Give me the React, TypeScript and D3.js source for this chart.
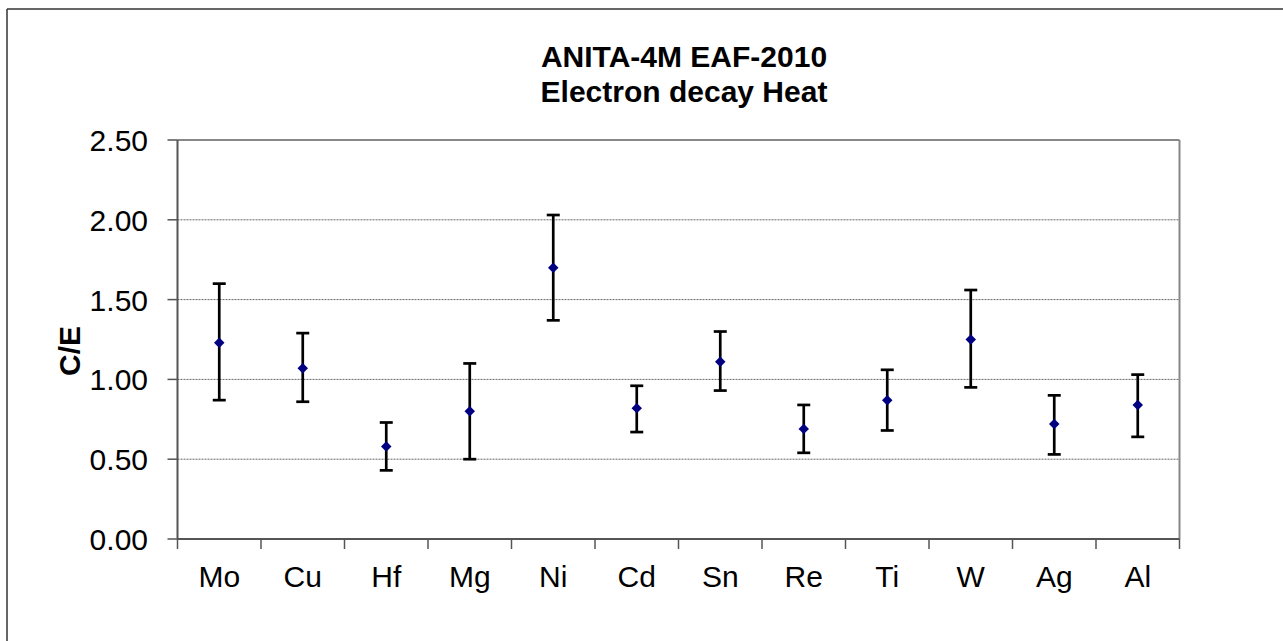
import React from "react";
import * as d3 from "d3";

// C/E ratios
const elements = ["Mo", "Cu", "Hf", "Mg", "Ni", "Cd", "Sn", "Re", "Ti", "W", "Ag", "Al"];
const ceValues = [1.23, 1.07, 0.58, 0.8, 1.7, 0.82, 1.11, 0.69, 0.87, 1.25, 0.72, 0.84];
const upperBars = [1.6, 1.29, 0.73, 1.1, 2.03, 0.96, 1.3, 0.84, 1.06, 1.56, 0.9, 1.03];
const lowerBars = [0.87, 0.86, 0.43, 0.5, 1.37, 0.67, 0.93, 0.54, 0.68, 0.95, 0.53, 0.64];
const yTicks = [0, 0.5, 1.0, 1.5, 2.0, 2.5];
const titleLines = ["ANITA-4M EAF-2010", "Electron decay Heat"];

const W = 1283;
const H = 641;
const plot = { left: 177.5, right: 1179.5, top: 140, bottom: 539 };

const App = () => {
  const x = d3.scaleBand().domain(elements).range([plot.left, plot.right]);
  const y = d3.scaleLinear().domain([0, 2.5]).range([plot.bottom, plot.top]);
  const font = "Arial, 'Liberation Sans', sans-serif";
  const diamond = d3.symbol().type(d3.symbolDiamond2).size(70)();
  const capHalf = 6.5;

  // band edges for x ticks
  const edges = elements.map((e) => x(e)!).concat([plot.right]);

  return (
    <svg
      width={W}
      height={H}
      style={{ position: "absolute", left: 0, top: 0, background: "#fff" }}
      fontFamily={font}
    >
      {/* chart area frame (only left/top edges fall inside the picture) */}
      <line x1={7} y1={9} x2={7} y2={H} stroke="#333" strokeWidth={1.5} />
      <line x1={7} y1={9} x2={W} y2={9} stroke="#333" strokeWidth={1.5} />

      {titleLines.map((t, i) => (
        <text
          key={t}
          x={684}
          y={67 + i * 35}
          textAnchor="middle"
          fontSize={30}
          fontWeight="bold"
        >
          {t}
        </text>
      ))}

      {/* gridlines */}
      {yTicks
        .filter((t) => t > 0 && t < 2.5)
        .map((t) => (
          <line
            key={t}
            x1={plot.left}
            x2={plot.right}
            y1={y(t)}
            y2={y(t)}
            stroke="#666"
            strokeWidth={1}
            strokeDasharray="2,1"
          />
        ))}

      {/* plot border top/right */}
      <line x1={plot.left} x2={plot.right} y1={y(2.5)} y2={y(2.5)} stroke="#888" strokeWidth={2} />
      <line x1={plot.right} x2={plot.right} y1={plot.top} y2={plot.bottom} stroke="#888" strokeWidth={2} />

      {/* y axis */}
      <line x1={plot.left} x2={plot.left} y1={plot.top} y2={plot.bottom} stroke="#555" strokeWidth={2} />
      {yTicks.map((t) => (
        <g key={t}>
          <line x1={plot.left - 10} x2={plot.left} y1={y(t)} y2={y(t)} stroke="#555" strokeWidth={1.5} />
          <text x={148} y={y(t) + 11} textAnchor="end" fontSize={30}>
            {d3.format(".2f")(t)}
          </text>
        </g>
      ))}
      <text
        transform={`translate(80, 351) rotate(-90)`}
        textAnchor="middle"
        fontSize={30}
        fontWeight="bold"
      >
        C/E
      </text>

      {/* x axis */}
      <line x1={plot.left} x2={plot.right} y1={plot.bottom} y2={plot.bottom} stroke="#555" strokeWidth={2} />
      {edges.map((ex, i) => (
        <line key={i} x1={ex} x2={ex} y1={plot.bottom} y2={plot.bottom + 10} stroke="#555" strokeWidth={1.5} />
      ))}
      {elements.map((e) => (
        <text key={e} x={x(e)! + x.bandwidth() / 2} y={587} textAnchor="middle" fontSize={30}>
          {e}
        </text>
      ))}

      {/* error bars and points */}
      {elements.map((e, i) => {
        const cx = x(e)! + x.bandwidth() / 2;
        return (
          <g key={e}>
            <line x1={cx} x2={cx} y1={y(upperBars[i])} y2={y(lowerBars[i])} stroke="#000" strokeWidth={2.7} />
            <line x1={cx - capHalf} x2={cx + capHalf} y1={y(upperBars[i])} y2={y(upperBars[i])} stroke="#000" strokeWidth={2.7} />
            <line x1={cx - capHalf} x2={cx + capHalf} y1={y(lowerBars[i])} y2={y(lowerBars[i])} stroke="#000" strokeWidth={2.7} />
            <path d={diamond!} transform={`translate(${cx}, ${y(ceValues[i])})`} fill="#000080" />
          </g>
        );
      })}
    </svg>
  );
};

export default App;
